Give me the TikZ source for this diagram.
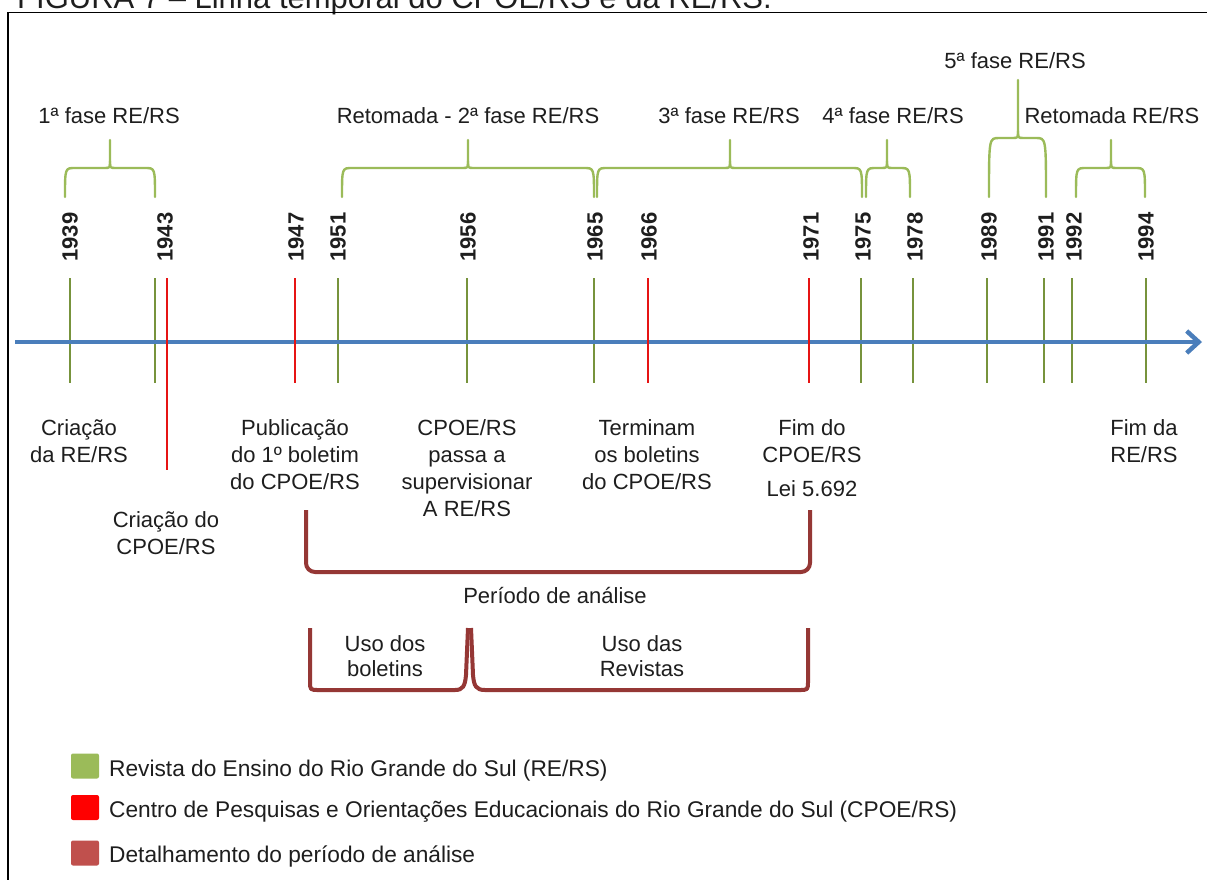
\documentclass[tikz,border=0pt]{standalone}
\usepackage{fontspec}
\setmainfont{Liberation Sans}
\usetikzlibrary{arrows.meta}
\definecolor{axisblue}{RGB}{74,126,187}
\definecolor{tickgreen}{RGB}{119,147,60}
\definecolor{bracegreen}{RGB}{155,187,89}
\definecolor{tickred}{RGB}{230,20,20}
\definecolor{perred}{RGB}{149,55,53}
\definecolor{legred}{RGB}{192,80,77}
\definecolor{legredb}{RGB}{255,0,0}
\definecolor{txt}{RGB}{30,30,30}
\newcommand{\GrBrace}[6]{%
  \draw[gbrace] (#1,#6) .. controls (#1,#5) and (#1,#5) .. ({#1+10},#5) -- ({#3-6},#5)
     .. controls (#3,#5) and (#3,#5) .. (#3,{#5-7}) -- (#3,#4);
  \draw[gbrace] (#3,{#5-7}) .. controls (#3,#5) and (#3,#5) .. ({#3+6},#5) -- ({#2-10},#5)
     .. controls (#2,#5) and (#2,#5) .. (#2,#6);}
\begin{document}
\begin{tikzpicture}[x=1pt,y=-1pt,
  gbrace/.style={draw=bracegreen,line width=2.4pt,line cap=round,line join=round},
  gtick/.style={draw=tickgreen,line width=2.4pt},
  rtick/.style={draw=tickred,line width=2.4pt},
  per/.style={draw=perred,line width=4pt,line join=round},
  year/.style={rotate=90,inner sep=0pt,text=txt,font=\fontsize{22}{22}\bfseries\selectfont},
  phase/.style={anchor=base,inner sep=0pt,text=txt,font=\fontsize{22}{27}\selectfont},
  lbl/.style={anchor=north,inner sep=0pt,text=txt,align=center,font=\fontsize{22}{27}\selectfont},
  leg/.style={anchor=base west,inner sep=0pt,text=txt,font=\fontsize{22.7}{27}\selectfont},
  legbox/.style={rounded corners=2pt,minimum width=28pt,minimum height=25pt,inner sep=0pt}]
\useasboundingbox (0,0) rectangle (1207,879);
\fill[white] (0,0) rectangle (1207,879);

% caption (clipped at top, as in the reference) and frame
\node[anchor=base west,inner sep=0pt,text=txt,font=\fontsize{31}{31}\selectfont] (caption) at (17,8.5) {FIGURA 7 – Linha temporal do CPOE/RS e da RE/RS.};
\draw[line width=1.5pt] (8,900) -- (8,12.5) -- (1230,12.5);

% phase braces
\GrBrace{65}{155}{110}{140}{168}{197}
\GrBrace{342}{594}{468}{140}{168}{197}
\GrBrace{597}{862}{730}{140}{168}{197}
\GrBrace{866}{910}{887}{140}{168}{197}
\GrBrace{989}{1046}{1018}{80}{138}{197}
\GrBrace{1076}{1145}{1111}{140}{168}{197}

% phase labels
\node[phase] (p1) at (109,123) {1ª fase RE/RS};
\node[phase] (p2) at (468,123) {Retomada - 2ª fase RE/RS};
\node[phase] (p3) at (729,123) {3ª fase RE/RS};
\node[phase] (p4) at (893,123) {4ª fase RE/RS};
\node[phase] (p5) at (1015,68) {5ª fase RE/RS};
\node[phase] (p6) at (1112,123) {Retomada RE/RS};

% years
\node[year] (y1939) at (70,237) {1939};
\node[year] (y1943) at (165,237) {1943};
\node[year] (y1947) at (296,237) {1947};
\node[year] (y1951) at (338,237) {1951};
\node[year] (y1956) at (468,237) {1956};
\node[year] (y1965) at (595,237) {1965};
\node[year] (y1966) at (649,237) {1966};
\node[year] (y1971) at (811,237) {1971};
\node[year] (y1975) at (863,237) {1975};
\node[year] (y1978) at (915,237) {1978};
\node[year] (y1989) at (989,237) {1989};
\node[year] (y1991) at (1046,237) {1991};
\node[year] (y1992) at (1074,237) {1992};
\node[year] (y1994) at (1146,237) {1994};

% green ticks
\foreach \x in {70,155,338,467,594,861,913,987,1044,1072,1146}
  \draw[gtick] (\x,278) -- (\x,383);
% axis
\coordinate (axs) at (15,342);
\coordinate (axe) at (1202,342);
\draw[draw=axisblue,line width=4.5pt,-{Straight Barb[length=12pt,width=22pt]}] (axs) -- (axe);
% red ticks
\draw[rtick] (167,278) -- (167,470);
\foreach \x in {295,648,809}
  \draw[rtick] (\x,278) -- (\x,383);

% event labels
\node[lbl] (e1) at (79,419) {Criação\\da RE/RS};
\node[lbl] (e2) at (166,511) {Criação do\\CPOE/RS};
\node[lbl] (e3) at (295,419) {Publicação\\do 1º boletim\\do CPOE/RS};
\node[lbl] (e4) at (467,419) {CPOE/RS\\passa a\\supervisionar\\A RE/RS};
\node[lbl] (e5) at (647,419) {Terminam\\os boletins\\do CPOE/RS};
\node[lbl] (e6) at (812,419) {Fim do\\CPOE/RS\\[7pt]Lei 5.692};
\node[lbl] (e7) at (1144,419) {Fim da\\RE/RS};

% analysis period bracket
\draw[per,rounded corners=9pt] (306,510) -- (306,572) -- (810,572) -- (810,510);
\node[phase] (per) at (555,603) {Período de análise};

% sub-period brackets
\draw[per] (310,628) -- (310,681) .. controls (310,690) and (310,690) .. (319,690) -- (455,690)
   .. controls (463,690) and (465,686) .. (466,675) -- (468,628);
\draw[per] (471,628) -- (473,675) .. controls (474,686) and (476,690) .. (485,690) -- (799,690)
   .. controls (808,690) and (808,690) .. (808,681) -- (808,628);
\node[lbl,font=\fontsize{22}{25}\selectfont] (s1) at (385,635) {Uso dos\\boletins};
\node[lbl,font=\fontsize{22}{25}\selectfont] (s2) at (642,635) {Uso das\\Revistas};

% legend
\node[legbox,fill=bracegreen] (lg1) at (85,766) {};
\node[legbox,fill=legredb] (lg2) at (85,807.5) {};
\node[legbox,fill=legred] (lg3) at (85,853) {};
\node[leg] (lt1) at (109,776) {Revista do Ensino do Rio Grande do Sul (RE/RS)};
\node[leg] (lt2) at (109,817) {Centro de Pesquisas e Orientações Educacionais do Rio Grande do Sul (CPOE/RS)};
\node[leg] (lt3) at (109,862) {Detalhamento do período de análise};
\end{tikzpicture}
\end{document}
